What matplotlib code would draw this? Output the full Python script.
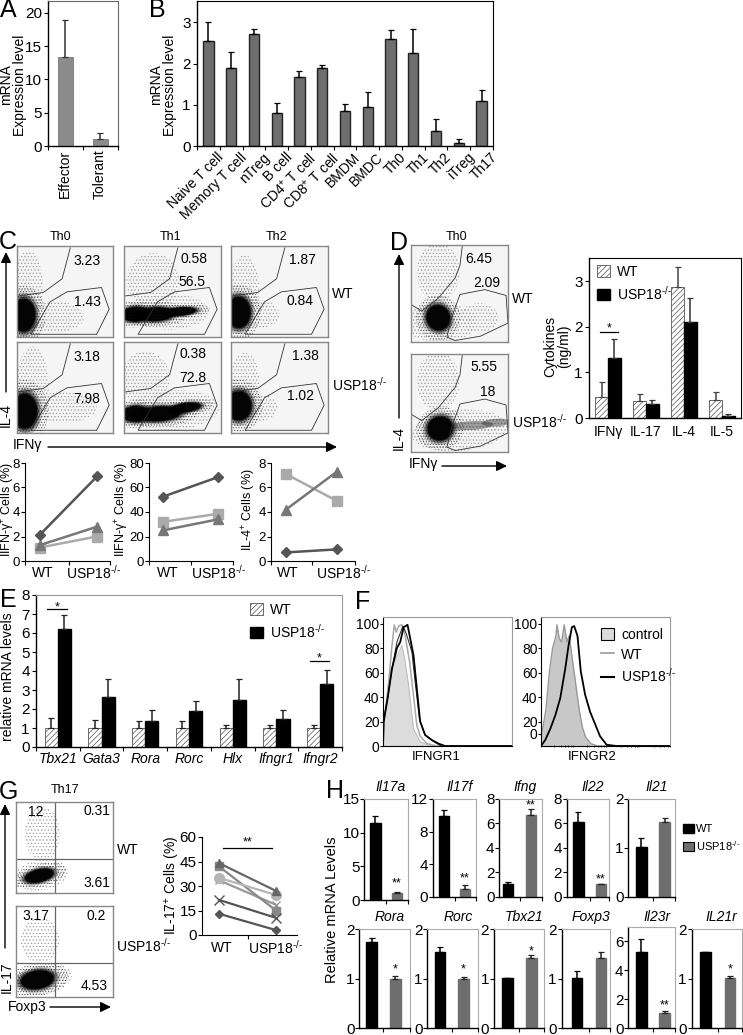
import matplotlib
matplotlib.use("Agg")
import matplotlib.pyplot as plt
from matplotlib.patches import Ellipse, Polygon, Patch, FancyArrowPatch
from matplotlib.lines import Line2D

W, H = 743, 1035
plt.rcParams["font.family"] = ["Liberation Sans", "DejaVu Sans"]
plt.rcParams["font.size"] = 9
plt.rcParams["mathtext.fontset"] = "custom"
plt.rcParams["mathtext.rm"] = "Liberation Sans"
plt.rcParams["mathtext.it"] = "Liberation Sans:italic"
plt.rcParams["mathtext.default"] = "regular"
plt.rcParams["hatch.linewidth"] = 0.5

KO = r"USP18$^{\text{-/-}}$"

# panel A
a_names = ["Effector", "Tolerant"]
a_vals = [13.4, 1.0]
a_tops = [19.0, 1.9]

# panel B
b_names = ["Naive T cell", "Memory T cell", "nTreg", "B cell", "CD4$^{+}$ T cell", "CD8$^{+}$ T cell",
           "BMDM", "BMDC", "Th0", "Th1", "Th2", "iTreg", "Th17"]
b_vals = [2.56, 1.89, 2.71, 0.79, 1.67, 1.89, 0.85, 0.95, 2.60, 2.26, 0.37, 0.065, 1.09]
b_tops = [3.02, 2.29, 2.83, 1.05, 1.82, 1.97, 1.01, 1.30, 2.81, 2.83, 0.65, 0.17, 1.36]

# panel C flow numbers, [upper gate, lower gate]
c_nums = [[("3.23", "1.43"), ("0.58", "56.5"), ("1.87", "0.84")],
          [("3.18", "7.98"), ("0.38", "72.8"), ("1.38", "1.02")]]
# gates on a 0-100 panel scale
c_gate_up = [(55.5, 98), (47, 64), (27.6, 49), (0.7, 45)]
c_gate_low = [(88, 54.4), (96, 30.5), (83, 3), (14.5, 3), (34.5, 38.6), (52, 49.6)]
# clouds: cx, cy, w, h, angle
c_clouds = [[[(7, 24, 24, 36, 0)], [(12, 25, 28, 16, 3), (33, 25, 36, 15, 3), (58, 28, 32, 9, 5)], [(8, 27, 24, 34, 0)]],
            [[(8, 24, 26, 38, 0)], [(12, 21, 28, 17, 3), (36, 21, 44, 16, 4), (64, 28, 30, 10, 8)], [(8, 30, 26, 32, 0)]]]
c_sparse = [[[(12, 55, 30, 80, 0), (40, 22, 60, 34, 0)], [(30, 62, 55, 60, 0), (45, 28, 85, 40, 0)], [(14, 55, 30, 70, 0), (30, 25, 40, 30, 0)]],
            [[(16, 50, 34, 90, 0), (48, 28, 70, 34, 0)], [(22, 60, 50, 60, 0), (50, 25, 96, 44, 4)], [(14, 58, 30, 60, 0), (28, 28, 40, 30, 0)]]]

# C lower line plots
c1_dia = [2.15, 6.9]
c1_tri = [1.3, 2.8]
c1_squ = [1.1, 2.0]
c2_dia = [52.5, 68.5]
c2_tri = [25, 34]
c2_squ = [32, 38.5]
c3_dia = [0.7, 0.95]
c3_tri = [4.2, 7.3]
c3_squ = [7.1, 4.9]

# panel D
d_gate_up = [(53, 100), (50.5, 79), (45.5, 66), (28, 45), (11, 32), (1, 38)]
d_gate_low = [(50.5, 49), (76, 54), (98, 48), (100, 19.5), (71.6, 6), (45.5, 1.5), (37, 5), (41.8, 25)]
d_clouds = [[(28, 25, 24, 26, 20)], [(30, 24, 26, 24, 15)]]
d_sparse = [[(28, 72, 44, 60, 0), (30, 20, 76, 40, 0), (70, 25, 40, 30, 0)],
            [(28, 72, 44, 60, 0), (50, 22, 100, 42, 5), (72, 28, 60, 14, 2)]]
d_tails = [[], [(62, 27, 46, 9, 3), (88, 30, 30, 8, 3)]]
d_groups = ["IFNγ", "IL-17", "IL-4", "IL-5"]
d_wt = [0.45, 0.37, 2.88, 0.39]
d_wt_top = [0.80, 0.53, 3.32, 0.57]
d_ko = [1.32, 0.30, 2.10, 0.05]
d_ko_top = [1.74, 0.39, 2.63, 0.09]

# panel E
e_genes = ["Tbx21", "Gata3", "Rora", "Rorc", "Hlx", "Ifngr1", "Ifngr2"]
e_wt = [1, 1, 1, 1, 1, 1, 1]
e_wt_top = [1.52, 1.42, 1.35, 1.35, 1.18, 1.15, 1.15]
e_ko = [6.2, 2.65, 1.35, 1.9, 2.5, 1.5, 3.3]
e_ko_top = [6.97, 3.6, 1.95, 2.4, 3.6, 1.95, 4.05]

# panel F histograms (channel, % of max)
f1_ctrl_x = [0, 2, 12, 22, 40, 57, 65, 77, 92, 112, 142, 389]
f1_ctrl_y = [0, 20, 36, 62, 72, 82, 72, 50, 14, 3.5, 0, 0]
f1_wt_x = [0, 4, 17, 27, 34, 40, 47, 57, 67, 80, 92, 102, 112, 132, 162, 389]
f1_wt_y = [0, 22, 52, 82, 99, 93, 98, 99, 90, 69, 41, 17, 8, 2, 0, 0]
f1_ko_x = [0, 2, 14, 27, 42, 52, 62, 74, 82, 92, 102, 112, 127, 147, 167, 187, 389]
f1_ko_y = [0, 20, 39, 63, 80, 85, 97, 99, 88, 74, 47, 20, 9, 5, 2, 0, 0]
f1_ko2_x = [2, 14, 27, 42, 60, 70, 87, 97, 110, 127, 150, 175]
f1_ko2_y = [20, 39, 63, 85, 98, 92, 77, 52, 22, 9, 4, 0]
f2_ctrl_x = [0, 5, 15, 25, 35, 45, 48, 55, 62, 70, 78, 85, 95, 105, 115, 125, 135, 150, 170, 389]
f2_ctrl_y = [10, 14, 30, 60, 80, 90, 99, 88, 85, 99, 85, 90, 70, 50, 30, 15, 7, 2, 0, 0]
f2_ko_x = [0, 13, 28, 43, 58, 73, 83, 93, 100, 110, 120, 133, 148, 163, 178, 198, 228, 389]
f2_ko_y = [0, 5, 14, 25, 39, 63, 82, 97, 98, 90, 61, 42, 28, 18, 8, 1, 0, 0]

# panel G
g_nums = [("12", "0.31", "3.61"), ("3.17", "0.2", "4.53")]
g_clouds = [[(24, 19, 30, 14, 15)], [(22, 19, 34, 20, 10)]]
g_sparse = [[(27, 65, 36, 60, 0), (26, 20, 55, 34, 10)], [(25, 62, 40, 50, 0), (28, 20, 60, 34, 10)]]
g_tri = [44, 27]
g_squ = [42, 15]
g_cir = [35, 24.5]
g_star = [33.5, 18.5]
g_x = [21.5, 10.5]
g_dia = [13, 3]

# panel H
h_genes = ["Il17a", "Il17f", "Ifng", "Il22", "Il21", "Rora", "Rorc", "Tbx21", "Foxp3", "Il23r", "IL21r"]
h_wt = [11.4, 9.9, 1.04, 6.15, 1.02, 1.75, 1.54, 1.01, 1.01, 5.26, 1.54]
h_wt_top = [12.5, 10.7, 1.23, 6.9, 1.21, 1.82, 1.64, 1.02, 1.16, 6.18, 1.55]
h_ko = [1.1, 1.0, 6.7, 1.0, 1.53, 1.0, 1.0, 1.43, 1.43, 1.03, 1.02]
h_ko_top = [1.12, 1.4, 7.2, 1.02, 1.62, 1.05, 1.04, 1.48, 1.55, 1.19, 1.06]
h_marks = ["**", "**", "**", "**", "", "*", "*", "*", "", "**", "*"]
h_mark_y = [2.97, 2.66, 7.79, 1.72, 0, 1.26, 1.27, 1.62, 0, 1.79, 1.25]
h_ymax = [15, 12, 8, 8, 2, 2, 2, 2, 2, 7, 2]
h_ticks = [[0, 5, 10, 15], [0, 4, 8, 12], [0, 2, 4, 6, 8], [0, 2, 4, 6, 8], [0, 1, 2],
           [0, 1, 2], [0, 1, 2], [0, 1, 2], [0, 1, 2], [0, 2, 4, 6], [0, 1, 2]]

fig = plt.figure(figsize=(W / 100, H / 100), dpi=100)


def box(x0, y0, x1, y1):
    # axes from pixel corners (y from the top of the image)
    return fig.add_axes([x0 / W, 1 - y1 / H, (x1 - x0) / W, (y1 - y0) / H])


def T(x, y, s, **kw):
    kw.setdefault("ha", "center")
    kw.setdefault("va", "center")
    fig.text(x / W, 1 - y / H, s, **kw)


def arrow(x0, y0, x1, y1):
    fig.add_artist(FancyArrowPatch(
        (x0 / W, 1 - y0 / H), (x1 / W, 1 - y1 / H), transform=fig.transFigure,
        arrowstyle="-|>,head_length=0.45,head_width=0.22", mutation_scale=14, lw=1, color="k",
        shrinkA=0, shrinkB=0))


def xrange_for(left, right, c0, c1):
    # xlim so that x=0 lands on pixel c0 and x=1 on pixel c1
    s = c1 - c0
    return (left - c0) / s, (right - c0) / s


def style(ax, frame="#999999", lw=1.0):
    ax.spines["left"].set_linewidth(lw)
    ax.spines["bottom"].set_linewidth(lw)
    ax.spines["top"].set_color(frame)
    ax.spines["right"].set_color(frame)
    ax.tick_params(length=3, width=0.8, pad=1.5, labelsize=9)


def err(ax, x, vals, tops, color="k", lw=1.1):
    up = [t - v for t, v in zip(tops, vals)]
    ax.errorbar(x, vals, yerr=[[0] * len(up), up], fmt="none", ecolor=color, elinewidth=lw, capsize=2, capthick=0.9)


def star(ax, x, y, s):
    ax.annotate(s, (x, y), xytext=(0, -2.5), textcoords="offset points", ha="center", va="center", fontsize=9)


def legend(handles, labels, x, y, size=10, textpad=0.5):
    fig.legend(handles, labels, loc="upper left", bbox_to_anchor=(x / W, 1 - y / H), frameon=False, fontsize=size,
               handlelength=0.95, handleheight=0.9, labelspacing=0.4, handletextpad=textpad, borderpad=0,
               borderaxespad=0)


def cloud(ax, blobs, sparse=(), tails=()):
    for cx, cy, w, h, ang in sparse:
        ax.add_patch(Ellipse((cx, cy), w, h, angle=ang, fc="none", ec="#9a9a9a", lw=0, hatch="....."))
    for cx, cy, w, h, ang in blobs:
        ax.add_patch(Ellipse((cx, cy), w * 1.9, h * 1.8, angle=ang, fc="none", ec="#555555", lw=0, hatch="......"))
    for cx, cy, w, h, ang in tails:
        ax.add_patch(Ellipse((cx, cy), w, h, angle=ang, fc="#333333", alpha=0.45, lw=0))
    for cx, cy, w, h, ang in blobs:
        for f, a in [(1.4, 0.2), (1.25, 0.35), (1.1, 0.55), (1.0, 0.9)]:
            ax.add_patch(Ellipse((cx, cy), w * f, h * f, angle=ang, fc="k", alpha=a, lw=0))


def flow(x0, y0, x1, y1, bg="#f5f5f5"):
    ax = box(x0, y0, x1, y1)
    ax.set_xlim(0, 100)
    ax.set_ylim(0, 100)
    ax.set_xticks([])
    ax.set_yticks([])
    ax.set_facecolor(bg)
    for s in ax.spines.values():
        s.set_color("#888888")
        s.set_linewidth(1.0)
    return ax


# ---- A
ax = box(48, 1, 118, 146)
ax.bar(range(2), a_vals, 0.43, color="#8c8c8c", edgecolor="#777777", linewidth=0.6)
err(ax, range(2), a_vals, a_tops, color="#333333")
ax.set_xlim(-0.49, 1.51)
ax.set_ylim(0, 21.8)
ax.set_yticks([0, 5, 10, 15, 20])
ax.set_xticks([-0.49, 0.51, 1.51], ["", "", ""])
style(ax, "#666666")
ax.tick_params(axis="y", labelsize=11)
for i, n in enumerate(a_names):
    T(65 + 35 * i, 174, n, rotation=90, fontsize=10)
T(13, 85, "mRNA\nExpression level", rotation=90, fontsize=10, linespacing=1.0)

# ---- B
ax = box(197, 1, 493, 146)
xs = list(range(13))
ax.bar(xs, b_vals, 0.45, color="#6e6e6e", edgecolor="#222222", linewidth=1.0)
err(ax, xs, b_vals, b_tops)
ax.set_xlim(-0.5, 12.5)
ax.set_ylim(0, 3.52)
ax.set_yticks([0, 1, 2, 3])
ax.set_xticks([x - 0.5 for x in xs] + [12.5], [""] * 14)
style(ax, "k")
ax.tick_params(axis="y", labelsize=11)
for i, n in enumerate(b_names):
    ax.annotate(n, (i, 0), xytext=(6, -3), textcoords="offset points", rotation=45, ha="right", va="top",
                rotation_mode="anchor", fontsize=10)
T(163, 85, "mRNA\nExpression level", rotation=90, fontsize=10, linespacing=1.0)

# ---- C flow
cols = [(17, 113), (124, 221), (231, 328)]
rows = [(246, 337), (342, 433)]
num_pos = [[[(87, 261), (87, 302)], [(194, 259), (192, 282)], [(302, 260), (300, 301)]],
           [[(87, 357), (87, 399)], [(193, 354), (193, 378)], [(305, 356), (300, 396)]]]
for r, (y0, y1) in enumerate(rows):
    for c, (x0, x1) in enumerate(cols):
        ax = flow(x0, y0, x1, y1)
        cloud(ax, c_clouds[r][c], c_sparse[r][c])
        ax.plot(*zip(*c_gate_up), color="#333333", lw=0.6)
        ax.add_patch(Polygon(c_gate_low, closed=True, fc="none", ec="#333333", lw=0.6))
        for s, p in zip(c_nums[r][c], num_pos[r][c]):
            T(p[0], p[1], s, fontsize=10)
for s, x in zip(["Th0", "Th1", "Th2"], [61, 171, 277]):
    T(x, 237, s, fontsize=9)
T(332, 294, "WT", ha="left", fontsize=10)
T(332, 385, KO, ha="left", fontsize=10)
arrow(6, 392, 6, 252)
T(6, 415, "IL-4", rotation=90, fontsize=10)
arrow(48, 447, 337, 447)
T(27, 445, "IFNγ", fontsize=10)

# C line plots
line_boxes = [(25, 110, 40, 97, 8, [0, 2, 4, 6, 8], c1_dia, c1_tri, c1_squ, "IIFN-γ$^{+}$ Cells (%)", 8, 43, 93),
              (149, 233, 163, 218, 80, [0, 20, 40, 60, 80], c2_dia, c2_tri, c2_squ, "IIFN-γ$^{+}$ Cells (%)", 122, 168, 218),
              (271, 355, 286, 337, 8, [0, 2, 4, 6, 8], c3_dia, c3_tri, c3_squ, "IL-4$^{+}$ Cells (%)", 249, 288, 343)]
for left, right, c0, c1, ymax, ticks, dia, tri, squ, lab, lx, wx, kx in line_boxes:
    ax = box(left, 463, right, 561)
    ax.patch.set_alpha(0)
    ax.plot([0, 1], squ, "-s", color="#aaaaaa", lw=1.8, ms=7, clip_on=False)
    ax.plot([0, 1], tri, "-^", color="#777777", lw=1.8, ms=7, clip_on=False)
    ax.plot([0, 1], dia, "-D", color="#555555", lw=1.8, ms=5.5, clip_on=False)
    ax.set_xlim(*xrange_for(left, right, c0, c1))
    ax.set_ylim(0, ymax)
    ax.set_yticks(ticks)
    ax.set_xticks([ax.get_xlim()[0], 0.5, ax.get_xlim()[1]], ["", "", ""])
    ax.spines[["top", "right"]].set_visible(False)
    ax.tick_params(length=3, width=0.8, pad=0.5, labelsize=9.5)
    T(lx, 510, lab, rotation=90, fontsize=9)
    T(wx, 573, "WT", fontsize=10)
    T(kx, 573, KO, fontsize=10)

# ---- D flow
for i, (y0, y1) in enumerate([(245, 342), (354, 452)]):
    ax = flow(411, y0, 508, y1)
    cloud(ax, d_clouds[i], d_sparse[i], d_tails[i])
    ax.plot(*zip(*d_gate_up), color="#333333", lw=0.6)
    ax.add_patch(Polygon(d_gate_low, closed=True, fc="none", ec="#333333", lw=0.6))
T(457, 237, "Th0", fontsize=9)
T(479, 259, "6.45", fontsize=10)
T(487, 283, "2.09", fontsize=10)
T(484, 367, "5.55", fontsize=10)
T(488, 392, "18", fontsize=10)
T(512, 299, "WT", ha="left", fontsize=10)
T(512, 422, KO, ha="left", fontsize=10)
arrow(399, 418, 399, 254)
T(399, 438, "IL-4", rotation=90, fontsize=10)
arrow(442, 466, 507, 466)
T(423, 464, "IFNγ", fontsize=10)

# D bars
ax = box(589, 258, 741, 418)
xs = list(range(4))
ax.bar([x - 0.17 for x in xs], d_wt, 0.34, color="white", edgecolor="#555555", hatch="//////", linewidth=0.6)
ax.bar([x + 0.17 for x in xs], d_ko, 0.34, color="k", edgecolor="k")
err(ax, [x - 0.17 for x in xs], d_wt, d_wt_top, color="#444444")
err(ax, [x + 0.17 for x in xs], d_ko, d_ko_top, color="#333333")
ax.plot([-0.2, 0.27], [1.89, 1.89], color="k", lw=0.9)
star(ax, 0.04, 2.03, "*")
ax.set_xlim(-0.5, 3.5)
ax.set_ylim(0, 3.51)
ax.set_yticks([0, 1, 2, 3])
ax.set_xticks(xs, d_groups)
style(ax, "k")
ax.tick_params(axis="x", length=0, pad=5, labelsize=10)
ax.tick_params(axis="y", labelsize=11)
T(557, 346, "Cytokines\n(ng/ml)", rotation=90, fontsize=10, linespacing=1.0)
legend([Patch(fc="white", ec="#555555", hatch="//////", lw=0.6), Patch(fc="k", ec="k")], ["WT", KO], 597, 265)

# ---- E
ax = box(36, 595, 342, 747)
xs = list(range(7))
ax.bar([x - 0.15 for x in xs], e_wt, 0.3, color="white", edgecolor="#555555", hatch="//////", linewidth=0.6)
ax.bar([x + 0.15 for x in xs], e_ko, 0.3, color="k", edgecolor="k")
err(ax, [x - 0.15 for x in xs], e_wt, e_wt_top, color="#222222")
err(ax, [x + 0.15 for x in xs], e_ko, e_ko_top, color="#222222")
ax.plot([-0.24, 0.2], [7.24, 7.24], color="k", lw=0.9)
star(ax, -0.01, 7.55, "*")
ax.plot([5.76, 6.2], [4.53, 4.53], color="k", lw=0.9)
star(ax, 5.98, 4.85, "*")
ax.set_xlim(-0.5, 6.5)
ax.set_ylim(0, 8)
ax.set_yticks(range(9))
ax.set_xticks([x - 0.5 for x in xs] + [6.5], [""] * 8)
style(ax, "#999999")
ax.tick_params(axis="y", labelsize=11)
for i, g in enumerate(e_genes):
    T(58 + 43.7 * i, 759, g, style="italic", fontsize=10)
T(8, 677, "relative mRNA levels", rotation=90, fontsize=10)
legend([Patch(fc="white", ec="#555555", hatch="//////", lw=0.6), Patch(fc="k", ec="k")], ["WT", KO], 250, 603)

# ---- F
ax = box(383, 617, 512, 746)
ax.fill_between(f1_ctrl_x, f1_ctrl_y, color="#dcdcdc", lw=0)
ax.plot(f1_ctrl_x, f1_ctrl_y, color="#bbbbbb", lw=0.7)
ax.plot(f1_wt_x, f1_wt_y, color="#a8a8a8", lw=1.1)
ax.plot(f1_ko2_x, f1_ko2_y, color="#222222", lw=0.7)
ax.plot(f1_ko_x, f1_ko_y, color="k", lw=1.3)
ax.set_xlim(0, 389)
ax.set_ylim(0, 105.4)
ax.set_yticks([0, 20, 40, 60, 80, 100])
ax.set_xticks([])
style(ax, "#999999", 0.8)
ax.tick_params(axis="y", labelsize=10, pad=0.5, length=2)
T(436, 757, "IFNGR1", fontsize=9.5)

ax = box(541, 617, 670, 746)
ax.fill_between(f2_ctrl_x, f2_ctrl_y, color="#c8c8c8", lw=0)
ax.plot(f2_ctrl_x, f2_ctrl_y, color="#999999", lw=1.0)
ax.plot(f2_ko_x, f2_ko_y, color="k", lw=1.3)
ax.set_xlim(0, 389)
ax.set_ylim(0, 105.4)
ax.set_yticks([10, 20, 40, 60, 80, 100], ["0", "20", "40", "60", "80", "100"])
ax.set_xticks([0, 95, 195, 293, 389], [""] * 5)
ax.set_xticks([40, 60, 72, 82, 90, 140, 160, 172, 182, 190, 240, 260, 272, 282, 290, 340, 360, 372, 382], minor=True)
style(ax, "#999999", 0.8)
ax.tick_params(axis="y", labelsize=10, pad=0.5, length=2)
ax.tick_params(axis="x", which="both", length=2, width=0.5, direction="inout")
T(592, 757, "IFNGR2", fontsize=9.5)
legend([Patch(fc="#dcdcdc", ec="k", lw=0.8), Line2D([], [], color="#999999", lw=1.2), Line2D([], [], color="k", lw=1.5)],
       ["control", "WT", KO], 601, 628)

# ---- G flow
g_num_pos = [[(36, 812), (97, 811), (97, 883)], [(36, 916), (96, 916), (94, 986)]]
for i, (y0, y1) in enumerate([(802, 893), (906, 997)]):
    ax = flow(16, y0, 113, y1, bg="white")
    cloud(ax, g_clouds[i], g_sparse[i])
    ax.axvline(40, color="#666666", lw=0.9)
    ax.axhline(37, color="#666666", lw=0.9)
    for s, p in zip(g_nums[i], g_num_pos[i]):
        T(p[0], p[1], s, fontsize=10)
T(65, 790, "Th17", fontsize=9)
T(117, 850, "WT", ha="left", fontsize=10)
T(116, 946, KO, ha="left", fontsize=10)
arrow(5, 948, 5, 804)
T(7, 977, "IL-17", rotation=90, fontsize=10)
arrow(50, 1007, 111, 1007)
T(27, 1007, "Foxp3", fontsize=10)

# G lines
ax = box(202, 837, 297, 935)
ax.patch.set_alpha(0)
ax.plot([0, 1], g_star, "-x", color="#999999", lw=1.6, ms=6)
ax.plot([0, 1], g_squ, "-s", color="#888888", lw=1.6, ms=6)
ax.plot([0, 1], g_cir, "-o", color="#b5b5b5", lw=1.6, ms=7)
ax.plot([0, 1], g_tri, "-^", color="#666666", lw=1.6, ms=6)
ax.plot([0, 1], g_x, "-x", color="#555555", lw=1.6, ms=7)
ax.plot([0, 1], g_dia, "-D", color="#555555", lw=1.6, ms=4.5)
ax.plot([0.07, 0.93], [53, 53], color="k", lw=0.9)
star(ax, 0.5, 58.5, "**")
ax.set_xlim(*xrange_for(202, 297, 219, 276))
ax.set_ylim(0, 60)
ax.set_yticks([0, 15, 30, 45, 60])
ax.set_xticks([0.5], [""])
ax.spines[["top", "right"]].set_visible(False)
ax.tick_params(length=3, width=0.8, pad=1, labelsize=11)
T(173, 885, "IL-17$^{+}$ Cells (%)", rotation=90, fontsize=10)
T(222, 948, "WT", fontsize=10)
T(275, 948, KO, fontsize=10)

# ---- H
# left, right, top, bottom, black centre, grey centre, title y (in 3x crop pixels)
h_boxes = [(133, 263, 87, 390, 166, 231, 50), (338, 468, 87, 380, 372, 435, 50), (538, 665, 87, 380, 564, 633, 50),
           (740, 868, 87, 380, 775, 843, 50), (925, 1065, 87, 380, 964, 1034, 50),
           (118, 270, 478, 775, 155, 226, 440), (322, 475, 478, 775, 360, 431, 440), (522, 672, 478, 775, 562, 634, 440),
           (725, 870, 478, 775, 771, 843, 440), (925, 1065, 470, 775, 964, 1034, 440), (1115, 1265, 478, 775, 1156, 1230, 440)]
for i, (l, r, t, b, c0, c1, ty) in enumerate(h_boxes):
    ax = box(320 + l / 3, 770 + t / 3, 320 + r / 3, 770 + b / 3)
    ax.bar(0, h_wt[i], 32 / (c1 - c0), color="k", edgecolor="k")
    ax.bar(1, h_ko[i], 32 / (c1 - c0), color="#6e6e6e", edgecolor="#6e6e6e")
    err(ax, [0], [h_wt[i]], [h_wt_top[i]])
    err(ax, [1], [h_ko[i]], [h_ko_top[i]], color="#222222")
    if h_marks[i]:
        star(ax, 1, h_mark_y[i], h_marks[i])
    ax.set_xlim(*xrange_for(l, r, c0, c1))
    ax.set_ylim(0, h_ymax[i])
    ax.set_yticks(h_ticks[i])
    ax.set_xticks([0.5, ax.get_xlim()[1]], ["", ""])
    style(ax, "#aaaaaa")
    ax.tick_params(axis="y", labelsize=11, pad=0.5)
    T(320 + (l + r) / 6 + 5, 770 + ty / 3, h_genes[i], style="italic", fontsize=10)
T(332, 910, "Relative mRNA Levels", rotation=90, fontsize=10.5)
legend([Patch(fc="k", ec="k"), Patch(fc="#6e6e6e", ec="k", lw=0.8)], ["WT", KO], 683, 824, size=8, textpad=0.25)

# panel letters
for s, x, y in [("A", 8, 10), ("B", 157, 10), ("C", 8, 242), ("D", 399, 243), ("E", 8, 600),
                ("F", 363, 602), ("G", 8, 792), ("H", 335, 791)]:
    T(x, y, s, fontsize=18)

fig.savefig("out.png", dpi=100)
